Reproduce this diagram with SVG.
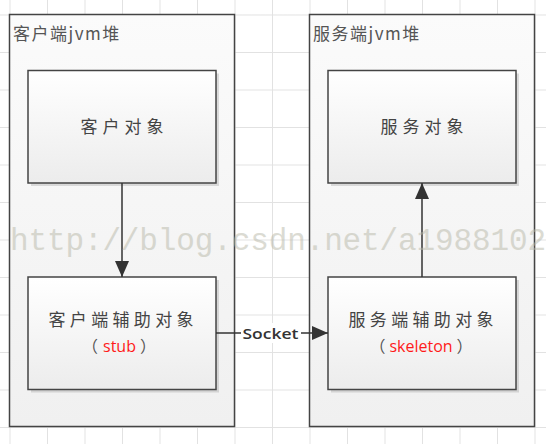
<svg xmlns="http://www.w3.org/2000/svg" width="546" height="444" viewBox="0 0 546 444">
<defs>
  <pattern id="grid" x="9.5" y="14.5" width="37.5" height="37.5" patternUnits="userSpaceOnUse">
    <path d="M0 0.5H37.5M0.5 0V37.5" fill="none" stroke="#e2e2e2" stroke-width="1"/>
  </pattern>
  <linearGradient id="outerFill" x1="0" y1="0" x2="0" y2="1">
    <stop offset="0" stop-color="#fbfbfb"/>
    <stop offset="1" stop-color="#f0f0f0"/>
  </linearGradient>
  <linearGradient id="innerFill" x1="0" y1="0" x2="0" y2="1">
    <stop offset="0" stop-color="#ffffff"/>
    <stop offset="1" stop-color="#ececec"/>
  </linearGradient>
  <marker id="arrow" viewBox="0 0 16 14" refX="16" refY="7" markerWidth="16" markerHeight="14" markerUnits="userSpaceOnUse" orient="auto">
    <path d="M0 0L16 7L0 14Z" fill="#333"/>
  </marker>
</defs>
<style>
  .outer { fill: url(#outerFill); stroke: #444; stroke-width: 1.5; }
  .inner { fill: url(#innerFill); stroke: #444; stroke-width: 1.5; }
  .shadow { fill: #000; opacity: 0.12; }
  .title { font-family: "Noto Sans CJK SC", "Noto Sans", sans-serif; font-size: 17px; fill: #555; letter-spacing: 1.5px; }
  .label { font-family: "Noto Sans CJK SC", "Noto Sans", sans-serif; font-size: 17px; fill: #444; text-anchor: middle; }
  .sub { font-family: "Noto Sans CJK SC", "Noto Sans", sans-serif; font-size: 16px; fill: #555; text-anchor: middle; }
  .red { fill: #ff1a1a; font-family: "Open Sans", "Noto Sans", sans-serif; }
  .conn { stroke: #333; stroke-width: 1.5; fill: none; }
  .sock { font-family: "Open Sans", "Noto Sans", sans-serif; font-size: 15px; font-weight: 600; fill: #333; text-anchor: middle; }
  .wm { font-family: "Liberation Mono", "DejaVu Sans Mono", monospace; font-size: 31px; fill: #b8b8a8; opacity: 0.5; }
</style>
<rect width="546" height="444" fill="#fff"/>
<rect width="546" height="444" fill="url(#grid)"/>

<g id="client-heap">
  <rect class="outer" x="9.5" y="14.5" width="225" height="412"/>
  <text class="title" x="13" y="40">客户端jvm堆</text>
</g>
<g id="server-heap">
  <rect class="outer" x="309.5" y="14.5" width="225" height="412"/>
  <text class="title" x="313" y="40">服务端jvm堆</text>
</g>

<g id="client-object">
  <rect class="shadow" x="31" y="73.5" width="188" height="112.5"/>
  <rect class="inner" x="28" y="70.5" width="188" height="112.5"/>
  <text class="label" x="122" y="133" textLength="83" lengthAdjust="spacing">客户对象</text>
</g>
<g id="client-stub">
  <rect class="shadow" x="31" y="280" width="188" height="112.5"/>
  <rect class="inner" x="28" y="277" width="188" height="112.5"/>
  <text class="label" x="121" y="326" textLength="145" lengthAdjust="spacing">客户端辅助对象</text>
  <text class="sub" x="119" y="352">（<tspan class="red" dx="5">stub</tspan><tspan dx="4">）</tspan></text>
</g>
<g id="server-object">
  <rect class="shadow" x="331" y="73.5" width="188" height="112.5"/>
  <rect class="inner" x="328" y="70.5" width="188" height="112.5"/>
  <text class="label" x="422" y="133" textLength="83" lengthAdjust="spacing">服务对象</text>
</g>
<g id="server-skeleton">
  <rect class="shadow" x="331" y="280" width="188" height="112.5"/>
  <rect class="inner" x="328" y="277" width="188" height="112.5"/>
  <text class="label" x="421" y="326" textLength="145" lengthAdjust="spacing">服务端辅助对象</text>
  <text class="sub" x="421" y="352">（<tspan class="red" dx="4">skeleton</tspan><tspan dx="4">）</tspan></text>
</g>

<g id="connectors">
  <line class="conn" x1="122" y1="183" x2="122" y2="277" marker-end="url(#arrow)"/>
  <line class="conn" x1="422" y1="277" x2="422" y2="183" marker-end="url(#arrow)"/>
  <line class="conn" x1="216" y1="333" x2="328" y2="333" marker-end="url(#arrow)"/>
  <rect x="241" y="323" width="60" height="20" fill="#fff"/>
  <text class="sock" x="270.5" y="338.5" textLength="56" lengthAdjust="spacingAndGlyphs">Socket</text>
</g>

<text class="wm" x="10" y="250" textLength="536" lengthAdjust="spacing">http://blog.csdn.net/a1988102</text>
</svg>
